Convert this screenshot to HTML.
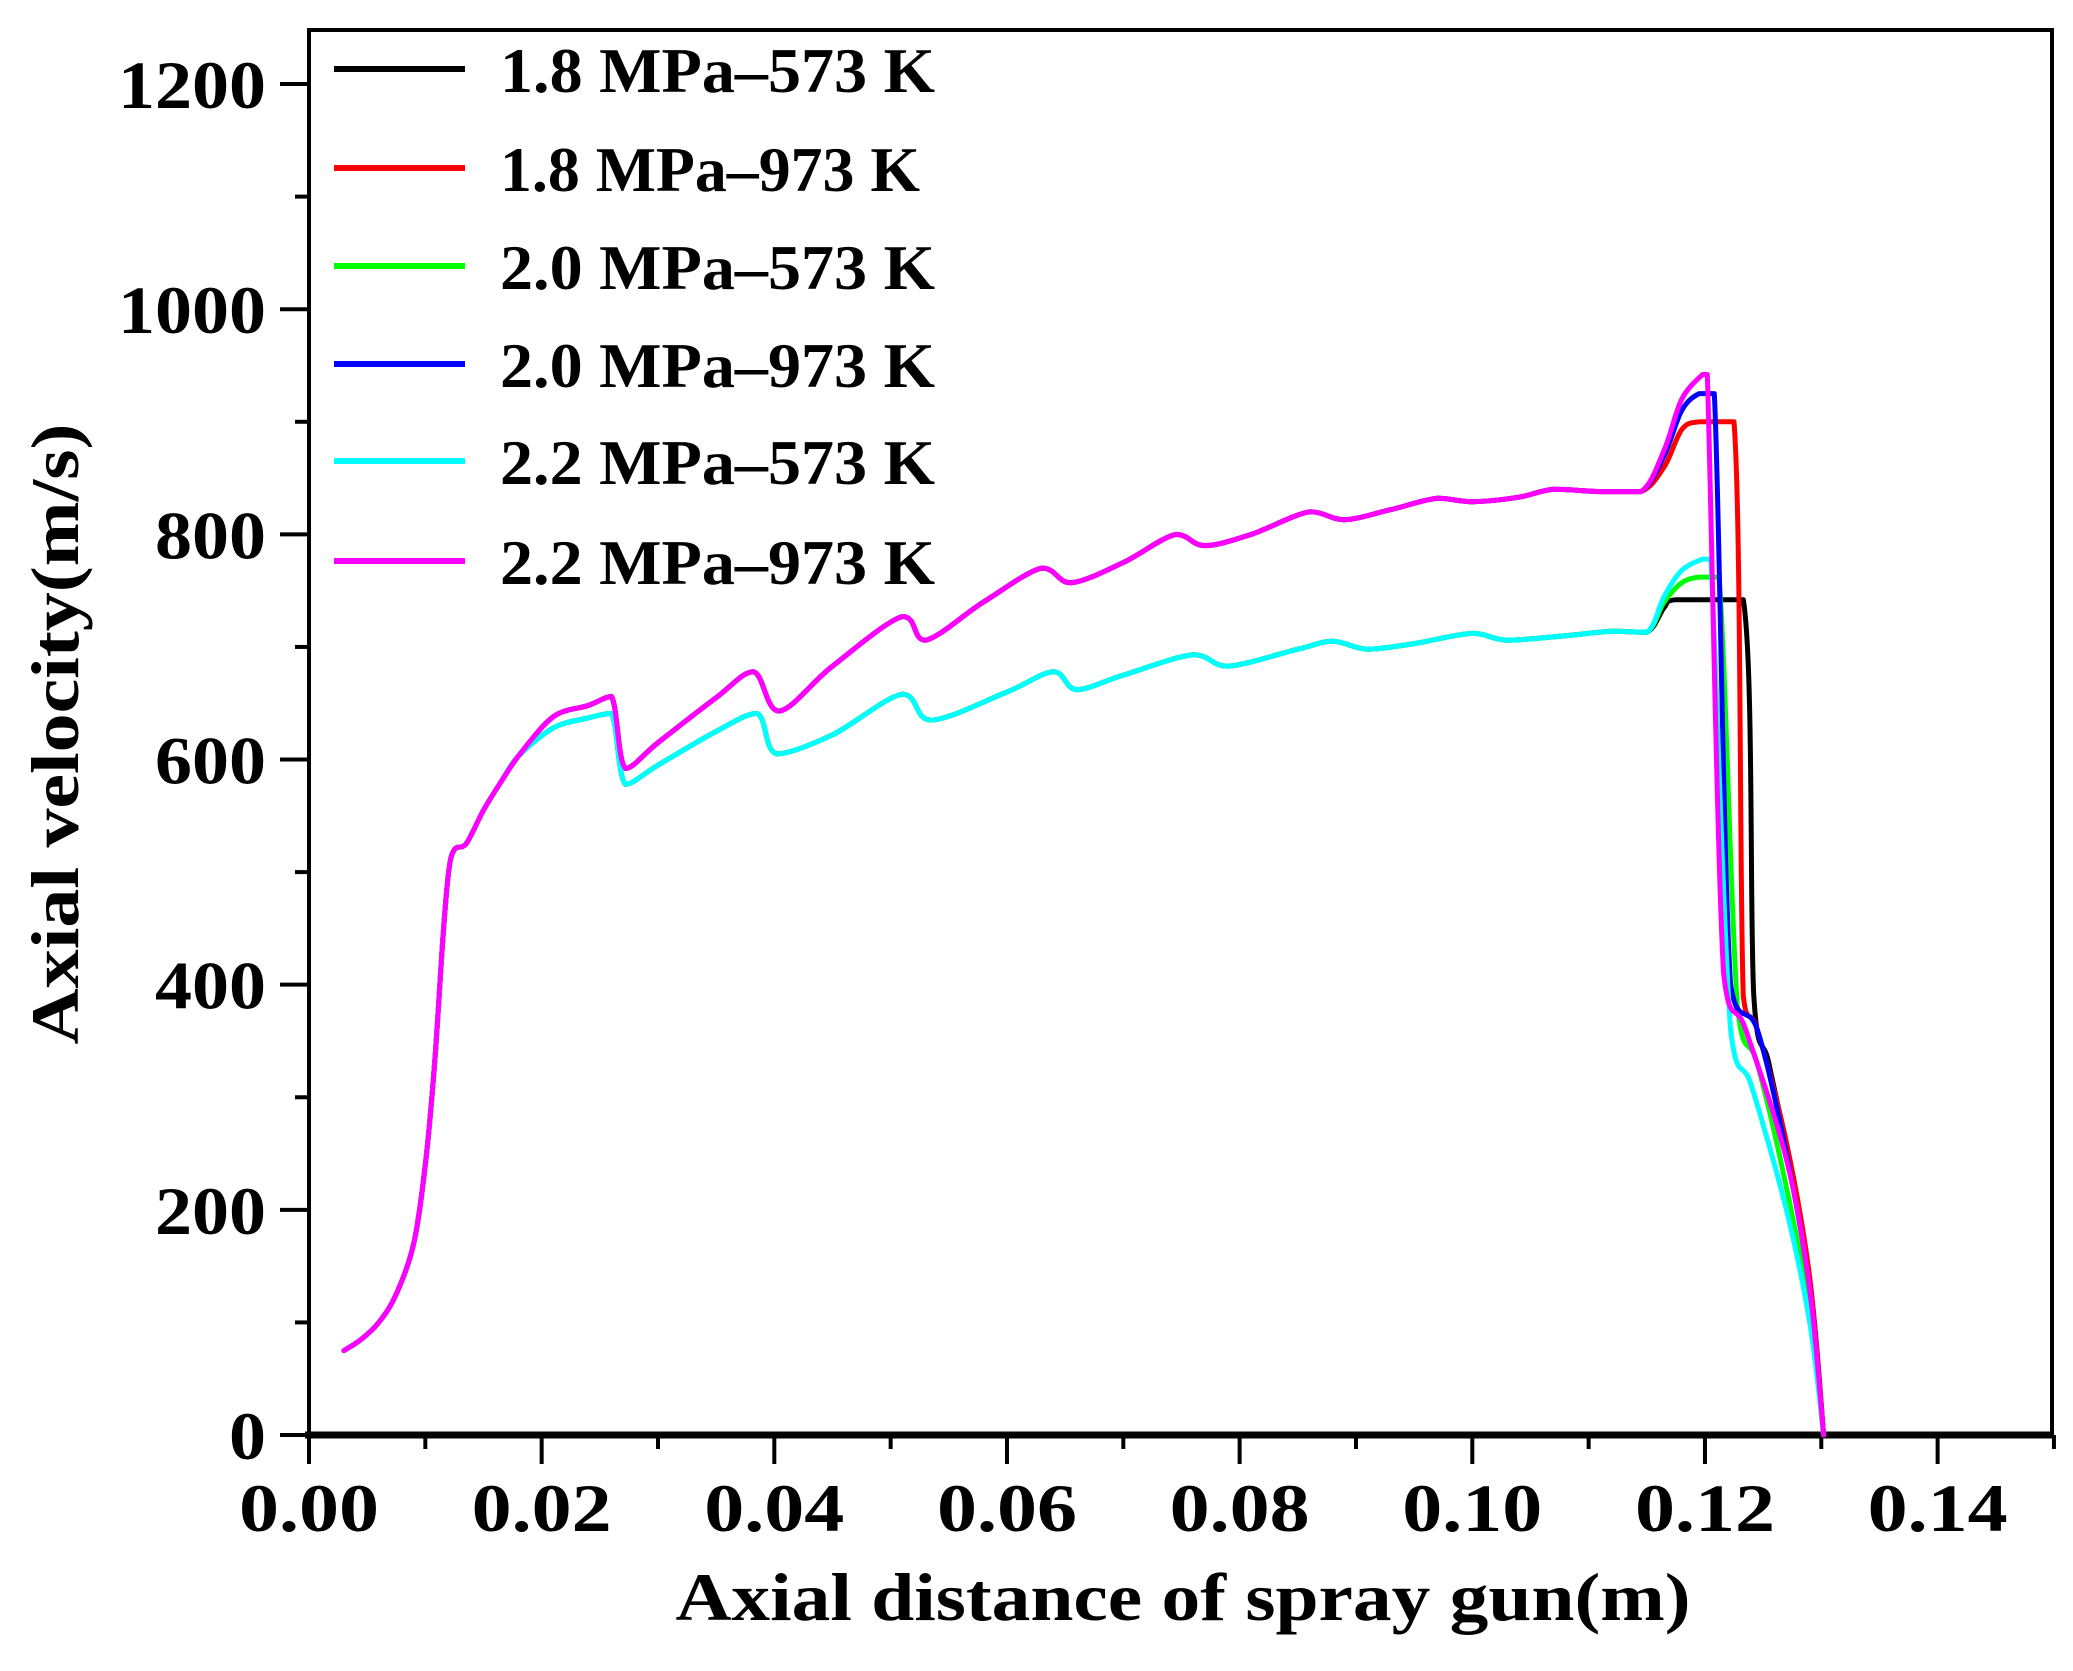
<!DOCTYPE html>
<html><head><meta charset="utf-8"><style>
html,body{margin:0;padding:0;background:#fff;}
svg{display:block;}
text{font-family:"Liberation Serif",serif;font-weight:bold;fill:#000;}
</style></head><body>
<svg id="s" width="2073" height="1671" viewBox="0 0 2073 1671" xmlns="http://www.w3.org/2000/svg">
<rect x="309" y="30" width="1743" height="1405" fill="none" stroke="#000" stroke-width="4"/>
<line x1="305" y1="1435" x2="2054" y2="1435" stroke="#000" stroke-width="7"/>
<g id="ticks" stroke="#000" stroke-width="4"></g>
<g id="labels" font-size="68"></g>
<g id="curves" fill="none" stroke-width="5" stroke-linejoin="round" stroke-linecap="round"></g>
<g id="legend" font-size="64"></g>
<text x="1183" y="1620" font-size="68" text-anchor="middle" textLength="1015" lengthAdjust="spacingAndGlyphs">Axial distance of spray gun(m)</text>
<text transform="translate(78,734) rotate(-90)" font-size="68" text-anchor="middle" textLength="621" lengthAdjust="spacingAndGlyphs">Axial velocity(m/s)</text>
</svg>
<script>
var NS="http://www.w3.org/2000/svg";
function el(p,t,a,txt){var e=document.createElementNS(NS,t);for(var k in a)e.setAttribute(k,a[k]);if(txt!=null)e.textContent=txt;document.getElementById(p).appendChild(e);return e;}
function X(x){return 309+x*11633;}
function Y(v){return 1435-v*1.1258;}
for(var i=0;i<=15;i++){var x=X(i*0.01);var L=(i%2==0)?29:14;el("ticks","line",{x1:x,y1:1435,x2:x,y2:1435+L});
 if(i%2==0)el("labels","text",{x:x,y:1531,"text-anchor":"middle",textLength:140,lengthAdjust:"spacingAndGlyphs"},(i*0.01).toFixed(2));}
for(var j=0;j<=12;j++){var y=Y(j*100);var L=(j%2==0)?29:14;el("ticks","line",{x1:309,y1:y,x2:309-L,y2:y});
 if(j%2==0){var s=String(j*100);el("labels","text",{x:266,y:y+24,"text-anchor":"end",textLength:s.length*37,lengthAdjust:"spacingAndGlyphs"},s);}}
var start=[[0.003,75],[0.0045,85],[0.006,100],[0.0075,125],[0.009,170],[0.010,240],[0.0108,330],[0.0115,440],[0.012,500],[0.0125,520],[0.0135,525],[0.015,555],[0.0165,580],[0.018,603]];
var cold=[[0.021,628],[0.024,637],[0.026,641],[0.0272,578],[0.03,595],[0.035,625],[0.0385,641],[0.0402,605],[0.045,622],[0.051,658],[0.0535,635],[0.06,660],[0.064,678],[0.066,662],[0.070,675],[0.076,693],[0.079,683],[0.085,698],[0.088,705],[0.091,698],[0.095,703],[0.1,712],[0.103,706],[0.108,710],[0.112,714],[0.115,713]];
var hot=[[0.021,638],[0.024,648],[0.026,656],[0.0272,592],[0.03,615],[0.035,655],[0.0382,678],[0.0404,643],[0.045,683],[0.051,727],[0.053,706],[0.058,740],[0.063,770],[0.0655,757],[0.07,775],[0.0745,800],[0.077,790],[0.081,800],[0.086,820],[0.089,813],[0.093,822],[0.097,832],[0.1,829],[0.104,833],[0.107,840],[0.111,838],[0.1145,838]];
function mk(base,peak,hold,dropX,lowV,tail){var p=start.concat(base);return p.concat(peak).concat([[hold,peak[peak.length-1][1]],[dropX,lowV]]).concat(tail);}
var tailC=[[0.1245,330],[0.127,220],[0.129,110],[0.1302,0]];
var tailH=[[0.1245,360],[0.127,250],[0.129,130],[0.1302,0]];
var series=[
 ["#000",mk(cold,[[0.1165,735],[0.1175,742]],0.1233,0.1242,390,[[0.1255,330],[0.1275,230],[0.1292,120],[0.1302,0]])],
 ["#f00",mk(hot,[[0.1165,860],[0.118,893],[0.1195,900]],0.1225,0.1233,390,[[0.1245,360],[0.127,260],[0.129,140],[0.1302,0]])],
 ["#0f0",mk(cold,[[0.1165,740],[0.118,757],[0.1195,762]],0.1212,0.1228,380,tailC)],
 ["#00f",mk(hot,[[0.1165,870],[0.118,910],[0.1195,925]],0.1208,0.1222,400,tailH)],
 ["#0ff",mk(cold,[[0.1165,745],[0.118,768],[0.1198,778]],0.1205,0.1222,360,[[0.124,310],[0.127,200],[0.129,100],[0.1302,0]])],
 ["#f0f",mk(hot,[[0.1165,875],[0.118,920],[0.1198,942]],0.1202,0.1216,410,[[0.1235,360],[0.127,245],[0.129,130],[0.1302,0]])]
];
function clamp(v,a,b){var lo=Math.min(a,b),hi=Math.max(a,b);return Math.max(lo,Math.min(hi,v));}
function smooth(pts){
 var P=pts.map(function(p){return [X(p[0]),Y(p[1])];});
 var d="M"+P[0][0].toFixed(1)+" "+P[0][1].toFixed(1);
 for(var i=0;i<P.length-1;i++){
  var p0=P[Math.max(0,i-1)],p1=P[i],p2=P[i+1],p3=P[Math.min(P.length-1,i+2)];
  var c1x=p1[0]+(p2[0]-p0[0])/6,c1y=clamp(p1[1]+(p2[1]-p0[1])/6,p1[1],p2[1]);
  var c2x=p2[0]-(p3[0]-p1[0])/6,c2y=clamp(p2[1]-(p3[1]-p1[1])/6,p1[1],p2[1]);
  c1x=clamp(c1x,p1[0],p2[0]);c2x=clamp(c2x,p1[0],p2[0]);
  d+=" C"+c1x.toFixed(1)+" "+c1y.toFixed(1)+" "+c2x.toFixed(1)+" "+c2y.toFixed(1)+" "+p2[0].toFixed(1)+" "+p2[1].toFixed(1);
 }
 return d;
}
series.forEach(function(s){el("curves","path",{d:smooth(s[1]),stroke:s[0]});});
var names=["1.8 MPa\u2013573 K","1.8 MPa\u2013973 K","2.0 MPa\u2013573 K","2.0 MPa\u2013973 K","2.2 MPa\u2013573 K","2.2 MPa\u2013973 K"];
var ys=[69,168,266,364,461,561];
names.forEach(function(n,i){el("legend","line",{x1:334,y1:ys[i],x2:465,y2:ys[i],stroke:series[i][0],"stroke-width":6});
 el("legend","text",{x:500,y:ys[i]+23,textLength:(i==1?420:435),lengthAdjust:"spacingAndGlyphs"},n);});
</script>
</body></html>
